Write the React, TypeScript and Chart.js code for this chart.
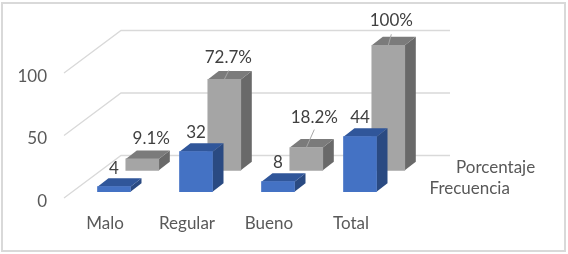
import React, { useEffect, useRef } from "react";
import { Chart, registerables } from "chart.js";

Chart.register(...registerables);

const categories = ["Malo", "Regular", "Bueno", "Total"];
const frecuencia = [4, 32, 8, 44];
const porcentaje = [9.1, 72.7, 18.2, 100];
const frecuenciaLabels = ["4", "32", "8", "44"];
const porcentajeLabels = ["9.1%", "72.7%", "18.2%", "100%"];
const yTickStep = 50;
const yMax = 100;

const FONT = "Lato, Carlito, Calibri, sans-serif";
const FONT_SIZE = 17;

// Per-dataset 3D styling: shift of the series plane, and its face colours.
const planes = [
  { shiftX: 0, shiftY: -6.3, top: "#30569a", side: "#2a4a82" },
  { shiftX: 28.3, shiftY: -27.7, top: "#7b7b7b", side: "#696969" },
];
const BAR_DEPTH_X = 11;
const BAR_DEPTH_Y = -8.5;

// Where the data labels sit, relative to the top-centre of the bar's front face.
const labelShift = [
  [[0, -18], [0, -19], [0, -19], [0, -19]],
  [[9, -20], [4, -22], [8, -30], [3, -25]],
];
// Leader-line end points relative to the same anchor (null: no leader).
const leaders: (number[] | null)[] = [null, [4.5, -9], [8, -18], [3, -11]];
const seriesLabelPos = [
  { x: 429.5, y: 189 },
  { x: 456, y: 168 },
];

const plugin3d = {
  id: "plugin3d",
  beforeDatasetsDraw(chart: any) {
    const { ctx, scales } = chart;
    const y = scales.y;
    ctx.save();
    ctx.strokeStyle = "#d9d9d9";
    ctx.lineWidth = 1.3;
    y.ticks.forEach((t: any) => {
      const p = y.getPixelForValue(t.value);
      ctx.beginPath();
      ctx.moveTo(64, p);
      ctx.lineTo(121, p - 42.5);
      ctx.lineTo(450, p - 42.5);
      ctx.stroke();
    });
    ctx.restore();
  },
  beforeDatasetDraw(chart: any, args: any) {
    const { ctx } = chart;
    const plane = planes[args.index];
    ctx.save();
    ctx.translate(plane.shiftX, plane.shiftY);
    args.meta.data.forEach((bar: any) => {
      const l = bar.x - bar.width / 2;
      const r = bar.x + bar.width / 2;
      const t = bar.y;
      const b = bar.base;
      ctx.fillStyle = plane.side;
      ctx.beginPath();
      ctx.moveTo(r, t);
      ctx.lineTo(r + BAR_DEPTH_X, t + BAR_DEPTH_Y);
      ctx.lineTo(r + BAR_DEPTH_X, b + BAR_DEPTH_Y);
      ctx.lineTo(r, b);
      ctx.closePath();
      ctx.fill();
      ctx.fillStyle = plane.top;
      ctx.beginPath();
      ctx.moveTo(l, t);
      ctx.lineTo(l + BAR_DEPTH_X, t + BAR_DEPTH_Y);
      ctx.lineTo(r + BAR_DEPTH_X, t + BAR_DEPTH_Y);
      ctx.lineTo(r, t);
      ctx.closePath();
      ctx.fill();
    });
  },
  afterDatasetDraw(chart: any) {
    chart.ctx.restore();
  },
  afterDraw(chart: any) {
    const { ctx } = chart;
    ctx.save();
    ctx.font = `${FONT_SIZE}px ${FONT}`;
    ctx.textBaseline = "middle";
    chart.data.datasets.forEach((ds: any, i: number) => {
      const meta = chart.getDatasetMeta(i);
      const plane = planes[i];
      const texts = i === 0 ? frecuenciaLabels : porcentajeLabels;
      meta.data.forEach((bar: any, j: number) => {
        const ax = bar.x + plane.shiftX;
        const ay = bar.y + plane.shiftY;
        const lead = i === 1 ? leaders[j] : null;
        if (lead) {
          ctx.strokeStyle = "#a6a6a6";
          ctx.lineWidth = 1;
          ctx.beginPath();
          ctx.moveTo(ax, ay);
          ctx.lineTo(ax + lead[0], ay + lead[1]);
          ctx.stroke();
        }
        ctx.fillStyle = "#404040";
        ctx.textAlign = "center";
        ctx.fillText(texts[j], ax + labelShift[i][j][0], ay + labelShift[i][j][1]);
      });
      ctx.fillStyle = "#595959";
      ctx.textAlign = "left";
      ctx.fillText(ds.label, seriesLabelPos[i].x, seriesLabelPos[i].y);
    });
    ctx.restore();
  },
};

export default function App() {
  const ref = useRef<HTMLCanvasElement>(null);
  useEffect(() => {
    const chart = new Chart(ref.current!, {
      type: "bar",
      data: {
        labels: categories,
        datasets: [
          { label: "Frecuencia", data: frecuencia, backgroundColor: "#4472c4" },
          { label: "Porcentaje", data: porcentaje, backgroundColor: "#a5a5a5" },
        ],
      },
      plugins: [plugin3d],
      options: {
        responsive: false,
        animation: false,
        layout: { padding: { left: 0, right: 167, top: 73, bottom: 0 } },
        plugins: { legend: { display: false }, title: { display: false }, tooltip: { enabled: false } },
        datasets: { bar: { barThickness: 33, grouped: false, clip: false } as any },
        scales: {
          x: {
            grid: { display: false, drawTicks: false },
            border: { display: false },
            afterFit: (s: any) => { s.height = 56; },
            ticks: {
              font: { family: FONT, size: FONT_SIZE },
              color: "#595959",
              padding: 15,
              labelOffset: -9,
              autoSkip: false,
              maxRotation: 0,
            },
          },
          y: {
            min: 0,
            max: yMax,
            grid: { display: false, drawTicks: false },
            border: { display: false },
            afterFit: (s: any) => { s.width = 73; },
            ticks: {
              stepSize: yTickStep,
              font: { family: FONT, size: FONT_SIZE },
              color: "#595959",
              padding: 26,
              labelOffset: 3.5,
            },
          },
        },
      } as any,
    });
    return () => chart.destroy();
  }, []);
  return (
    <div style={{ position: "absolute", left: 0, top: 0, width: 568, height: 254, background: "#fff", overflow: "hidden" }}>
      <canvas ref={ref} width={568} height={254} style={{ display: "block" }} />
      <div
        style={{
          position: "absolute",
          left: 1,
          top: 1.5,
          width: 561,
          height: 246,
          border: "2px solid #d9d9d9",
          pointerEvents: "none",
        }}
      />
    </div>
  );
}
